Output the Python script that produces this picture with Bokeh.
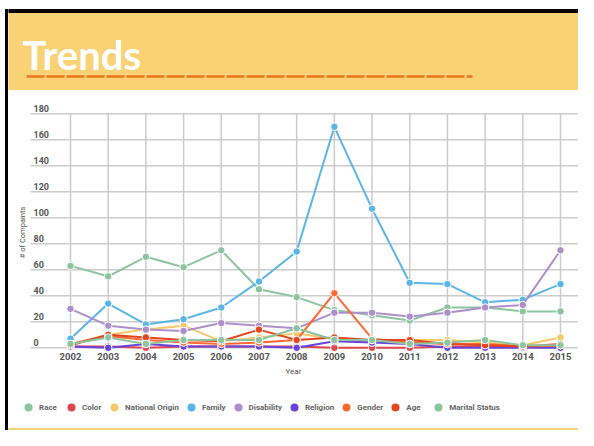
import math
from bokeh.plotting import figure
from bokeh.layouts import column, row
from bokeh.models import Range1d, Legend, LegendItem, FixedTicker, Div
from bokeh.core.properties import value
from bokeh.embed import file_html
from bokeh.resources import INLINE

# ---------------- data ----------------
years = [2002, 2003, 2004, 2005, 2006, 2007, 2008, 2009, 2010, 2011, 2012, 2013, 2014, 2015]
race = [63, 55, 70, 62, 75, 45, 39, 29, 25, 21, 31, 31, 28, 28]
color = [1, 1, 0, 1, 1, 1, 1, 0, 0, 0, 1, 1, 1, 1]
national_origin = [3, 10, 14, 17, 5, 8, 11, 7, 4, 6, 6, 4, 2, 8]
family = [7, 34, 18, 22, 31, 51, 74, 170, 107, 50, 49, 35, 37, 49]
disability = [30, 17, 14, 13, 19, 17, 15, 27, 27, 24, 27, 31, 33, 75]
religion = [1, 0, 3, 1, 1, 1, 0, 5, 4, 3, 0, 0, 0, 0]
gender = [3, 9, 6, 4, 3, 4, 6, 42, 7, 4, 3, 3, 1, 2]
age = [2, 10, 8, 6, 5, 14, 6, 8, 6, 6, 3, 2, 1, 3]
marital_status = [3, 8, 3, 6, 6, 6, 15, 6, 6, 3, 4, 6, 2, 2]

series_names = ["Race", "Color", "National Origin", "Family", "Disability",
                "Religion", "Gender", "Age", "Marital Status"]
series_values = [race, color, national_origin, family, disability,
                 religion, gender, age, marital_status]
series_colors = ["#8CC4A0", "#E0464E", "#F5C96A", "#5BB5E6", "#AE8FCB",
                 "#6744DC", "#FF6A33", "#E2451F", "#8CC4A0"]

y_ticks = [0, 20, 40, 60, 80, 100, 120, 140, 160, 180]
y_tick_labels = [str(v) for v in y_ticks]
x_tick_labels = {y: str(y) for y in years}

title_text = "Trends"
x_axis_title = "Year"
y_axis_title = "# of Compaints"

# ---------------- style ----------------
YELLOW = "#F9D276"
OFF = 8                            # left strip (white + black slide border)
W = 578 - OFF                      # width of the figures column
H = 430
HH, CH, LH = 90, 295, 45           # header / chart / legend strip heights
FONT = "Roboto"
GRID = "#cccccc"
TXT = "#555555"
NAN = float("nan")


def blank(w, h, bg):
    f = figure(width=w, height=h, x_range=Range1d(0, w), y_range=Range1d(0, h),
               x_axis_type=None, y_axis_type=None, toolbar_location=None,
               output_backend="svg", min_border=0)
    f.background_fill_color = bg
    f.border_fill_color = bg
    f.outline_line_color = None
    f.grid.visible = False
    return f


# ---------------- left slide border ----------------
border = Div(text="", width=3, height=H - 9, margin=(9, 0, 0, 5),
             styles={"background-color": "black"})

# ---------------- header ----------------
header = blank(W, HH, "white")
header.quad(left=0, right=W, bottom=0, top=HH - 12, color=YELLOW)
header.quad(left=0, right=W, bottom=HH - 12, top=HH - 9, color="black")
header.text(x=[22 - OFF], y=[HH - 54], text=[title_text], text_font=value("Lato"),
            text_font_style="bold", text_font_size="40px", text_color="white",
            text_baseline="middle")
header.line(x=[26 - OFF, 472 - OFF], y=[HH - 76, HH - 76], line_color="#E8771C",
            line_width=2.5, line_dash="18 2")

# ---------------- chart ----------------
BOTTOM = 33                      # x-axis panel height
FH = CH - BOTTOM                 # frame height
px_per_year = 490 / 13
x_start = years[0] - (70 - OFF) / px_per_year
x_end = x_start + W / px_per_year
px_per_unit = 1.3
y_start = -(FH - (347.3 - HH)) / px_per_unit
y_end = (347.3 - HH) / px_per_unit

p = figure(width=W, height=CH, x_range=Range1d(x_start, x_end),
           y_range=Range1d(y_start, y_end), y_axis_location=None,
           toolbar_location=None, output_backend="svg",
           min_border_left=0, min_border_right=0, min_border_top=0,
           min_border_bottom=BOTTOM)
p.extra_x_ranges = {"px": Range1d(0, W)}
p.extra_y_ranges = {"px": Range1d(0, FH)}
p.outline_line_color = None
p.background_fill_color = "white"
p.border_fill_color = "white"
p.grid.visible = False

# grid
p.segment(x0=[30 - OFF] * len(y_ticks), y0=y_ticks, x1=[W] * len(y_ticks), y1=y_ticks,
          line_color=GRID, line_width=1.5, x_range_name="px")
p.segment(x0=years, y0=[y_ticks[0]] * len(years), x1=years, y1=[y_ticks[-1]] * len(years),
          line_color=GRID, line_width=1.5)

# series
for name, vals, c in zip(series_names, series_values, series_colors):
    p.line(years, vals, line_color=c, line_width=2)
    p.scatter(years, vals, marker="circle", size=7.5, fill_color=c, line_color="white",
              line_width=1)

# y tick labels (drawn above the grid lines, inside the chart area)
p.text(x=[30 - OFF] * len(y_ticks), y=y_ticks, text=y_tick_labels, text_font=value(FONT),
       text_font_size="9px", text_font_style="bold", text_color=TXT,
       text_baseline="bottom", x_offset=3, y_offset=-2, x_range_name="px")

# y axis title
p.text(x=[22 - OFF], y=[352 - 232], text=[y_axis_title], angle=math.pi / 2,
       text_font=value(FONT), text_font_size="7.5px", text_color=TXT,
       text_align="center", text_baseline="middle",
       x_range_name="px", y_range_name="px")

p.xaxis.ticker = FixedTicker(ticks=years)
p.xaxis.major_label_overrides = x_tick_labels
p.xaxis.axis_line_color = None
p.xaxis.major_tick_line_color = None
p.xaxis.minor_tick_line_color = None
p.xaxis.major_tick_out = 0
p.xaxis.major_tick_in = 0
p.xaxis.major_label_standoff = 0
p.xaxis.major_label_text_font = FONT
p.xaxis.major_label_text_font_style = "bold"
p.xaxis.major_label_text_font_size = "9.5px"
p.xaxis.major_label_text_color = TXT
p.xaxis.axis_label = x_axis_title
p.xaxis.axis_label_text_font = FONT
p.xaxis.axis_label_text_font_style = "normal"
p.xaxis.axis_label_text_font_size = "8px"
p.xaxis.axis_label_text_color = TXT
p.xaxis.axis_label_standoff = 4

# ---------------- legend strip + footer ----------------
lf = blank(W, LH, "white")
lf.quad(left=0, right=W, bottom=0, top=2, color=YELLOW)
items = []
for name, c in zip(series_names, series_colors):
    r = lf.scatter(x=[NAN], y=[NAN], marker="circle", size=8, fill_color=c, line_color=None)
    items.append(LegendItem(label=name, renderers=[r]))
leg = Legend(items=items, orientation="horizontal", location=(18 - OFF, LH - 32),
             glyph_width=20, glyph_height=20, label_standoff=1, spacing=2,
             padding=0, margin=0, border_line_color=None, background_fill_alpha=0,
             label_text_font=FONT, label_text_font_size="8px", label_text_font_style="bold",
             label_text_color="#666666", label_height=20)
lf.add_layout(leg)

layout = row(border, column(header, p, lf, spacing=0), spacing=0)

open("out.html", "w").write(file_html(layout, INLINE))
